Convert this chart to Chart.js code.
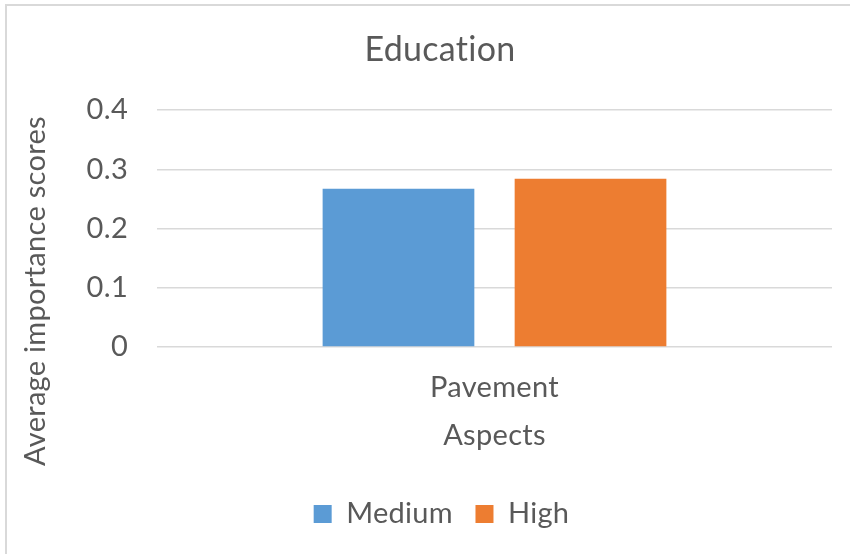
<!DOCTYPE html>
<html lang="en">
  <head>
    <meta charset="utf-8">
    <title>Education</title>
    <script src="https://cdn.jsdelivr.net/npm/chart.js"></script>
    <style>
      html, body { margin: 0; padding: 0; background: #fff; }
    </style>
  </head>
  <body>
    <canvas id="myChart" width="850" height="554"></canvas>

  <script>
    // chart values
    const categories = ['Pavement'];
    const mediumScores = [0.267];
    const highScores = [0.284];
    const yMin = 0, yMax = 0.4, yStep = 0.1;

    const textColor = '#595959';
    const gridColor = '#d9d9d9';
    const fontFamily = 'Lato, "Open Sans", sans-serif';
    const fontSize = 29;

    // light frame on the top and left edge, plus the rotated y axis title
    const framePlugin = {
        id: 'frame',
        beforeDraw(chart) {
            const ctx = chart.ctx;
            // a tiny letter spacing keeps Lato from joining "ti"
            ctx.letterSpacing = '0.3px';
            ctx.save();
            ctx.strokeStyle = gridColor;
            ctx.lineWidth = 2;
            ctx.beginPath();
            ctx.moveTo(6, 560);
            ctx.lineTo(6, 5);
            ctx.lineTo(860, 5);
            ctx.stroke();
            ctx.restore();
        },
        afterDraw(chart) {
            const ctx = chart.ctx;
            ctx.save();
            ctx.translate(36, 291);
            ctx.rotate(-Math.PI / 2);
            ctx.fillStyle = textColor;
            ctx.font = fontSize + 'px ' + fontFamily;
            ctx.textAlign = 'center';
            ctx.textBaseline = 'middle';
            ctx.fillText('Average importance scores', 0, 0);
            ctx.restore();
        }
    };

    const ctx = document.getElementById('myChart').getContext('2d');
    const myChart = new Chart(ctx, {
        type: 'bar',
        data: {
            labels: categories,
            datasets: [
                {
                    label: 'Medium',
                    data: mediumScores,
                    backgroundColor: '#5b9bd5'
                },
                {
                    label: 'High',
                    data: highScores,
                    backgroundColor: '#ed7d31'
                }
            ]
        },
        plugins: [framePlugin],
        options: {
            responsive: false,
            animation: false,
            devicePixelRatio: 1,
            layout: { padding: { left: 48, right: 18, top: 0, bottom: 15.5 } },
            datasets: {
                bar: { categoryPercentage: 0.569, barPercentage: 0.79 }
            },
            plugins: {
                title: {
                    display: true,
                    text: 'Education',
                    color: textColor,
                    font: { family: fontFamily, size: 34, weight: 'normal' },
                    padding: { top: 29.6, bottom: 39.6 }
                },
                legend: {
                    position: 'bottom',
                    labels: {
                        color: textColor,
                        font: { family: fontFamily, size: fontSize },
                        boxWidth: 18,
                        boxHeight: 18,
                        padding: 22.5
                    }
                },
                tooltip: { enabled: false }
            },
            scales: {
                x: {
                    grid: { display: false },
                    border: { display: false },
                    ticks: {
                        color: textColor,
                        font: { family: fontFamily, size: fontSize },
                        padding: 15
                    },
                    title: {
                        display: true,
                        text: 'Aspects',
                        color: textColor,
                        font: { family: fontFamily, size: fontSize },
                        padding: { top: 0, bottom: 23.6 }
                    },
                    afterFit(scale) { scale.height = 130; }
                },
                y: {
                    min: yMin,
                    max: yMax,
                    grid: { color: gridColor, lineWidth: 1.5, drawTicks: false },
                    border: { display: false },
                    ticks: {
                        stepSize: yStep,
                        color: textColor,
                        font: { family: fontFamily, size: fontSize },
                        padding: 29,
                        callback: v => Math.round(v * 10) / 10
                    },
                    afterFit(scale) { scale.width = 109; }
                }
            }
        }
    });
    </script>
  </body>
</html>
